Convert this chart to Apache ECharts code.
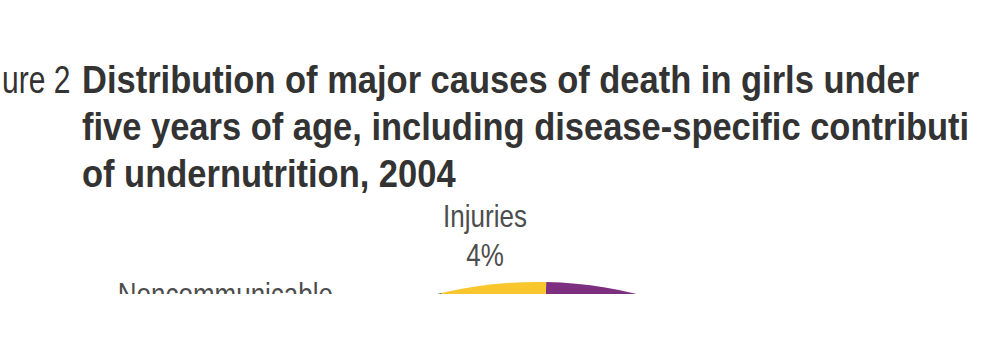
<!DOCTYPE html>
<html>
<head>
<meta charset="utf-8">
<script src="https://cdn.jsdelivr.net/npm/echarts@6/dist/echarts.min.js"></script>
<style>
html,body{margin:0;padding:0;background:#fff;}
#chart{width:998px;height:294px;}
</style>
</head>
<body>
<div id="chart"></div>
<script>
// Data (estimated shares, %) – clockwise from the top
const causes = ["Neonatal causes", "Pneumonia", "Diarrhoeal diseases", "Malaria", "Measles", "HIV/AIDS", "Other", "Noncommunicable", "Injuries"];
const shares = [36, 17, 17, 8, 4, 2, 9, 3, 4];
const colors = ["#7d2f80", "#c9463d", "#5a9bd4", "#8cbf3f", "#e07b2a", "#9aa3ab", "#b7a07a", "#1c5f7c", "#f8c72e"];
const titlePrefix = "ure 2";
const titleLines = [
  "Distribution of major causes of death in girls under",
  "five years of age, including disease-specific contributi",
  "of undernutrition, 2004"
];

const chart = echarts.init(document.getElementById('chart'), null, {renderer: 'svg'});
const fam = '"Liberation Sans", Arial, sans-serif';
function txt(x, y, text, font, fill, align, sy, lineHeight) {
  const st = {x: 0, y: 0, text: text, font: font, fill: fill, textAlign: align, verticalAlign: 'middle'};
  if (lineHeight) st.lineHeight = lineHeight;
  return {type: 'text', x: x, y: y, scaleY: sy, style: st};
}
const graphics = [txt(2, 80, titlePrefix, 'normal 30px ' + fam, '#333', 'left', 1.3)];
titleLines.forEach((t, i) => {
  graphics.push(txt(82, 79 + i * 47, t, 'bold 34.5px ' + fam, '#333', 'left', 1.15));
});
const injIdx = causes.indexOf("Injuries");
const ncdIdx = causes.indexOf("Noncommunicable");
graphics.push(txt(485, 216, causes[injIdx], 'normal 26px ' + fam, '#4d4d4d', 'center', 1.18));
graphics.push(txt(485, 255, shares[injIdx] + "%", 'normal 26px ' + fam, '#4d4d4d', 'center', 1.18));
graphics.push(txt(333, 294, causes[ncdIdx], 'normal 26px ' + fam, '#4d4d4d', 'right', 1.18));

chart.setOption({
  animation: false,
  backgroundColor: '#fff',
  graphic: graphics,
  series: [{
    type: 'pie',
    center: [537, 702],
    radius: [0, 420],
    startAngle: 88.75,
    clockwise: true,
    label: {show: false},
    labelLine: {show: false},
    silent: true,
    data: causes.map((c, i) => ({name: c, value: shares[i], itemStyle: {color: colors[i]}}))
  }]
});
</script>
</body>
</html>
